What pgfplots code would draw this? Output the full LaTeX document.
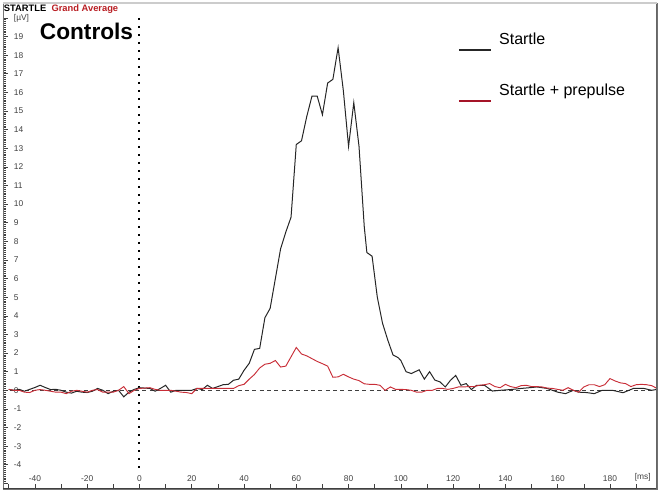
\documentclass[border=0pt]{standalone}
\usepackage{pgfplots}
\pgfplotsset{compat=1.18}
\usepackage{fontspec}
\setmainfont{Liberation Sans}
\usetikzlibrary{calc}
\definecolor{ppred}{RGB}{200,45,55}
\definecolor{legred}{RGB}{165,20,40}
\definecolor{titlered}{RGB}{185,30,35}

\pgfplotstableread{
x y
-50 0.05
-48 0.0
-46 0.05
-44 -0.05
-42 0.05
-40 0.15
-38 0.27
-36 0.15
-34 0.04
-32 0.05
-30 0.0
-28 -0.1
-26 -0.15
-24 -0.05
-22 -0.1
-20 -0.12
-18 -0.05
-16 0.1
-14 0.0
-12 -0.18
-10 -0.05
-8 0.0
-6 -0.35
-4 -0.1
-2 0.05
0 0.14
2 0.12
4 0.1
6 -0.05
8 0.1
10 0.27
12 -0.1
14 0.0
16 0.0
18 0.0
20 0.0
22 0.1
24 0.04
26 0.27
28 0.1
30 0.2
32 0.3
34 0.32
36 0.54
38 0.6
40 1.07
42 1.45
44 2.2
46 2.25
48 3.9
50 4.4
52 6.0
54 7.6
56 8.5
58 9.3
60 13.2
62 13.4
64 14.7
66 15.8
68 15.8
70 14.8
72 16.5
74 16.7
76 18.4
78 16.1
80 13.1
82 15.45
84 13.1
86 8.8
87 7.4
89 7.2
91 5.0
93 3.6
95 2.7
97 1.9
99 1.75
100 1.6
102 1.0
104 0.9
107 1.1
109 0.6
111 1.0
113 0.55
115 0.45
117 0.18
119 0.54
121 0.8
123 0.27
125 0.36
127 0.04
129 0.27
132 0.27
135 -0.04
138 0.0
142 0.04
146 0.1
150 0.15
152 0.18
156 0.1
160 -0.1
163 -0.18
166 0.0
168 -0.1
171 -0.12
174 -0.18
177 0.0
181 0.0
185 -0.13
189 0.1
193 0.1
196 0.0
198 0.05
}\startle

\pgfplotstableread{
x y
-50 0.05
-48 0.0
-46 0.0
-44 -0.1
-42 -0.12
-40 0.0
-38 0.04
-36 0.0
-34 -0.05
-32 -0.1
-30 -0.1
-28 -0.18
-26 -0.05
-24 0.0
-22 -0.05
-20 -0.1
-18 0.0
-16 0.04
-14 -0.1
-12 -0.1
-10 -0.1
-8 0.0
-6 0.2
-4 -0.18
-2 0.0
0 0.1
2 0.12
4 0.14
6 0.05
8 0.0
10 0.0
12 0.0
14 -0.05
16 -0.1
18 -0.12
20 -0.18
22 0.1
24 0.1
26 0.1
28 0.1
30 0.1
32 0.1
34 0.1
36 0.1
38 0.25
40 0.32
42 0.6
44 0.85
46 1.2
48 1.4
50 1.45
52 1.6
54 1.25
56 1.3
58 1.8
60 2.3
62 1.95
64 1.85
66 1.7
68 1.55
70 1.43
72 1.3
74 0.7
76 0.72
78 0.86
80 0.72
82 0.6
84 0.52
86 0.35
88 0.32
90 0.32
92 0.27
94 0.0
96 0.18
98 0.05
100 0.05
102 0.04
104 0.0
106 -0.1
108 -0.1
110 0.0
112 0.0
114 0.1
116 0.1
118 0.05
120 0.1
122 0.18
124 0.18
126 0.2
128 0.2
130 0.27
132 0.3
134 0.36
136 0.2
138 0.14
140 0.32
142 0.2
144 0.14
146 0.25
148 0.27
150 0.2
152 0.2
154 0.18
156 0.12
158 0.1
160 0.05
162 0.0
164 0.14
166 0.0
168 -0.1
170 0.18
172 0.3
174 0.3
176 0.2
178 0.3
180 0.63
182 0.5
184 0.4
186 0.36
188 0.2
190 0.3
192 0.32
194 0.3
196 0.25
198 0.1
}\prepulse

\begin{document}
\begin{tikzpicture}
\begin{axis}[
    scale only axis,
    width=490.5pt, height=364.5pt,
    xmin=-52.2, xmax=198, ymin=-5.3, ymax=20.8,
    axis line style={black!55, line width=0.6pt},
    tick align=inside,
    tick style={black!75, line width=0.45pt},
    xtick={-50,-40,...,180},
    xticklabels={{},-40,{},-20,{},0,{},20,{},40,{},60,{},80,{},100,{},120,{},140,{},160,{},180},
    extra x ticks={190},
    extra x tick labels={[ms]},
    extra x tick style={xticklabel style={xshift=5pt}},
    ytick={-5,...,20},
    yticklabels={{},-4,-3,-2,-1,0,1,2,3,4,5,6,7,8,9,10,11,12,13,14,15,16,17,18,19,{[µV]}},
    minor y tick num=9,
    major tick length=3.5pt,
    minor tick length=2.4pt,
    xtick pos=bottom, ytick pos=left,
    x tick label style={anchor=south, yshift=4.5pt, font=\fontsize{6.3}{7}\selectfont, text=black!75, inner sep=1pt},
    y tick label style={anchor=west, xshift=7pt, font=\fontsize{6.3}{7}\selectfont, text=black!75, inner sep=1pt},
    legend style={at={(rel axis cs:0.695,0.944)}, anchor=north west, draw=none, fill=none,
        inner sep=0pt, font=\fontsize{12}{14}\selectfont, row sep=23pt,
        /tikz/every odd column/.append style={column sep=3pt}},
    legend cell align=left,
    legend image code/.code={\draw[#1, line width=1.5pt] (0pt,-7.5pt) -- (24.5pt,-7.5pt);},
  ]
  \coordinate (sw) at (rel axis cs:0,0);
  \coordinate (ne) at (rel axis cs:1,1);
  \addplot[black!75, line width=0.75pt, dash pattern=on 3pt off 2.5pt, forget plot] coordinates {(-52.2,0) (198,0)};
  \addplot[black, line width=1.5pt, dash pattern=on 1.5pt off 4.5pt, forget plot] coordinates {(0,20) (0,-4.4)};
  \addplot[black!85, line width=0.75pt] table[x=x, y=y] {\startle};
  \addlegendentry{Startle}
  \addplot[ppred, line width=0.7pt, legend image post style={legred}] table[x=x, y=y] {\prepulse};
  \addlegendentry{Startle + prepulse}
  \draw[black!75, line width=0.8pt] (rel axis cs:0,0) -- (rel axis cs:1,0);
  \draw[black!60, line width=1.5pt] (rel axis cs:1,0) -- (rel axis cs:1,1);
  \draw[black!20, line width=0.8pt] (rel axis cs:0,1) -- (rel axis cs:1,1);
  \node[anchor=north west, inner sep=0pt, font=\bfseries\fontsize{7}{8}\selectfont, fill=white]
    at ([xshift=0.5pt, yshift=-1pt]rel axis cs:0,1) {STARTLE\hspace{4pt}\textcolor{titlered}{Grand Average}};
  \node[anchor=base west, inner sep=0pt, font=\bfseries\fontsize{17}{20}\selectfont]
    at (rel axis cs:0.056,0.924) {Controls};
\end{axis}
\pgfresetboundingbox
\path ($(sw)+(-2.25pt,-2.25pt)$) rectangle ($(ne)+(3pt,2.25pt)$);
\end{tikzpicture}
\end{document}
